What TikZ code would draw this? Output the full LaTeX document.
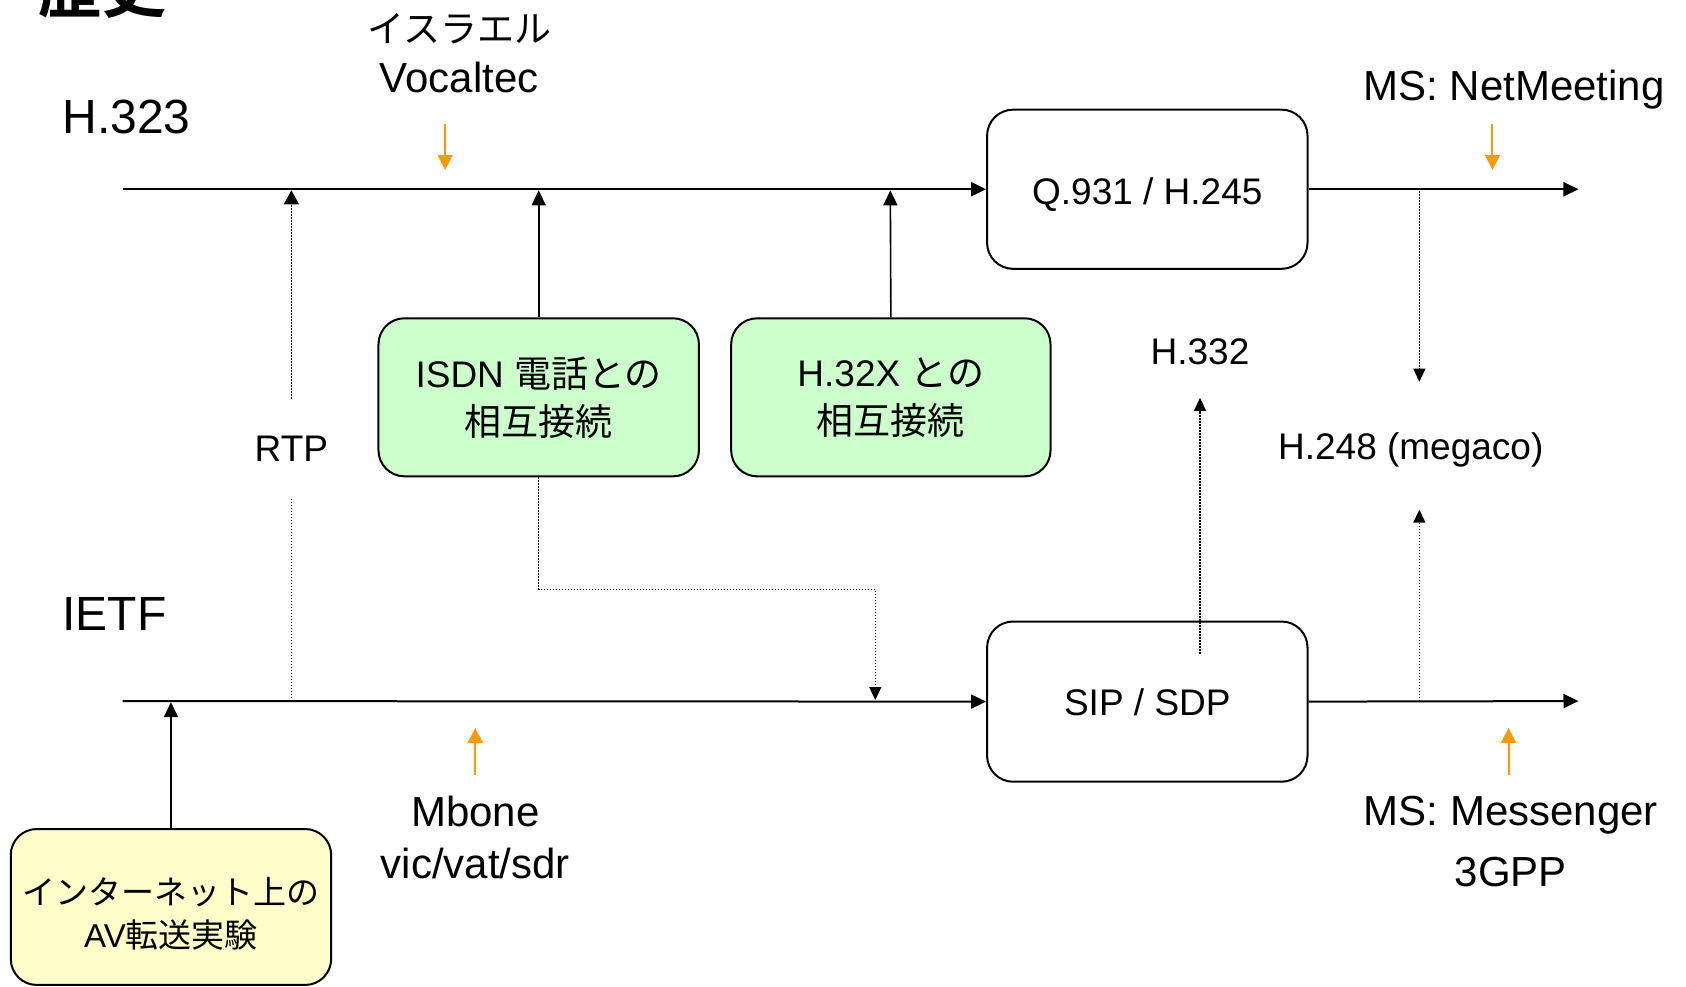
\documentclass[tikz,border=0pt]{standalone}
\usepackage{fontspec}
\setmainfont{Liberation Sans}
\newfontfamily\jp{Noto Sans CJK JP}[BoldFont=Noto Sans CJK JP Bold]
\usetikzlibrary{arrows.meta}
\begin{document}
\begin{tikzpicture}[x=1.0753pt,y=-1.0753pt,
  >={Triangle[length=15pt,width=14pt]},
  big/.style={font=\fontsize{48}{58}\selectfont},
  med/.style={font=\fontsize{42}{51}\selectfont},
  sml/.style={font=\fontsize{37}{47}\selectfont},
  box/.style={draw,line width=2pt,rounded corners=26pt,align=center,sml,inner sep=0pt},
  mainline/.style={line width=2pt},
  link/.style={line width=1.6pt},
  dots/.style={line width=1.4pt,dash pattern=on 1.4pt off 1.6pt,
     -{Triangle[length=13pt,width=12pt]}},
  dotsplain/.style={line width=1.4pt,dash pattern=on 1.4pt off 1.6pt},
  orng/.style={draw={rgb,255:red,255;green,153;blue,0},line width=2pt,
     -{Triangle[length=15pt,width=15pt]}}
]
\definecolor{boxgreen}{RGB}{204,255,204}
\definecolor{boxyellow}{RGB}{255,255,204}
\useasboundingbox (0,0) rectangle (1568,917);

% title (cut off at the top edge, as in the reference)
\node[anchor=base west,inner sep=0pt,font=\jp\bfseries\fontsize{64}{64}\selectfont] (title) at (36,12) {歴史};

% row labels
\node[big,anchor=west,inner sep=0pt] (h323) at (58,109) {H.323};
\node[big,anchor=west,inner sep=0pt] (ietf) at (58,571) {IETF};

% boxes
\node[box,minimum width={298*1.0753pt},minimum height={148*1.0753pt}] (q) at (1067,176)
  {\raisebox{0pt}[30.8pt][0pt]{Q.931 / H.245}};
\node[box,minimum width={298*1.0753pt},minimum height={149*1.0753pt}] (sip) at (1067,652.5)
  {\raisebox{0pt}[27.8pt][0pt]{SIP / SDP}};
\node[box,fill=boxgreen,minimum width={298*1.0753pt},minimum height={147*1.0753pt}] (isdn) at (501,369.5)
  {ISDN {\jp 電話との}\\[1pt]{\jp 相互接続}};
\node[box,fill=boxgreen,minimum width={297*1.0753pt},minimum height={147*1.0753pt}] (h32x) at (828.5,369.5)
  {H.32X {\jp との}\\[1pt]{\jp 相互接続}};
\node[box,fill=boxyellow,font=\fontsize{33}{42}\selectfont,minimum width={298*1.0753pt},minimum height={145*1.0753pt}] (av) at (159,843.5)
  {\rule{0pt}{40pt}{\jp インターネット上の}\\[1pt]AV{\jp 転送実験}};

% coordinates on lines
\coordinate (tstart) at (114,176);
\coordinate (tend) at (1468,176);
\coordinate (bstart) at (114,652);
\coordinate (bend) at (1468,652);
\coordinate (trtp) at (271,177);
\coordinate (brtp) at (271,652);
\coordinate (tisdn) at (501,177);
\coordinate (th32x) at (828,177);
\coordinate (bav) at (159,653);
\coordinate (isdnturn1) at (501,548);
\coordinate (isdnturn2) at (814,548);
\coordinate (bisdn) at (814,651);
\coordinate (sipin) at (1116,608);
\coordinate (h332tip) at (1116,370);
\coordinate (tmeg) at (1320,178);
\coordinate (megtip1) at (1320,355);
\coordinate (bmeg) at (1320,652);
\coordinate (megtip2) at (1320,474);

% main lines
\draw[mainline,->] (tstart) -- (q.west);
\draw[mainline,->] (q.east) -- (tend);
\draw[mainline,->] (bstart) -- (sip.west);
\draw[mainline,->] (sip.east) -- (bend);

% RTP
\node[sml,minimum height={92*1.0753pt},inner sep=0pt] (rtp) at (271,417) {RTP};
\draw[dotsplain] (brtp) -- (rtp.south);
\draw[dots,-{Triangle[length=14pt,width=15pt]}] (rtp.north) -- (trtp);

% green boxes to H.323
\draw[link,->] (isdn.north) -- (tisdn);
\draw[link,->] (h32x.north) -- (th32x);

% ISDN to IETF
\draw[dots] (isdn.south) -- (isdnturn1) -- (isdnturn2) -- (bisdn);

% AV
\draw[link,->] (av.north) -- (bav);

% H.332
\node[sml,inner sep=0pt] (h332) at (1116,327) {H.332};
\draw[dots] (sipin) -- (h332tip);

% H.248
\node[sml,inner sep=0pt] (h248) at (1312,418) {H.248 (megaco)};
\draw[dots] (tmeg) -- (megtip1);
\draw[dots] (bmeg) -- (megtip2);

% Vocaltec
\node[inner sep=0pt,font=\jp\fontsize{37}{40}\selectfont] (isr) at (427,27) {イスラエル};
\node[med,inner sep=0pt] (voc) at (427,72) {Vocaltec};
\coordinate (vocA) at (414,115);
\coordinate (vocB) at (414,158);
\draw[orng] (vocA) -- (vocB);

% NetMeeting
\node[med,inner sep=0pt] (nm) at (1408,83) {MS: NetMeeting};
\coordinate (nmA) at (1388,115);
\coordinate (nmB) at (1388,158);
\draw[orng] (nmA) -- (nmB);

% Mbone
\node[med,inner sep=0pt] (mb) at (442,755) {Mbone};
\node[med,inner sep=0pt] (vic) at (442,803) {vic/vat/sdr};
\coordinate (mbA) at (442,721);
\coordinate (mbB) at (442,677);
\draw[orng] (mbA) -- (mbB);

% Messenger
\node[med,inner sep=0pt] (msn) at (1405,758) {MS: Messenger};
\node[med,inner sep=0pt] (gpp) at (1405,811) {3GPP};
\coordinate (msA) at (1403,721);
\coordinate (msB) at (1403,677);
\draw[orng] (msA) -- (msB);
\end{tikzpicture}
\end{document}
